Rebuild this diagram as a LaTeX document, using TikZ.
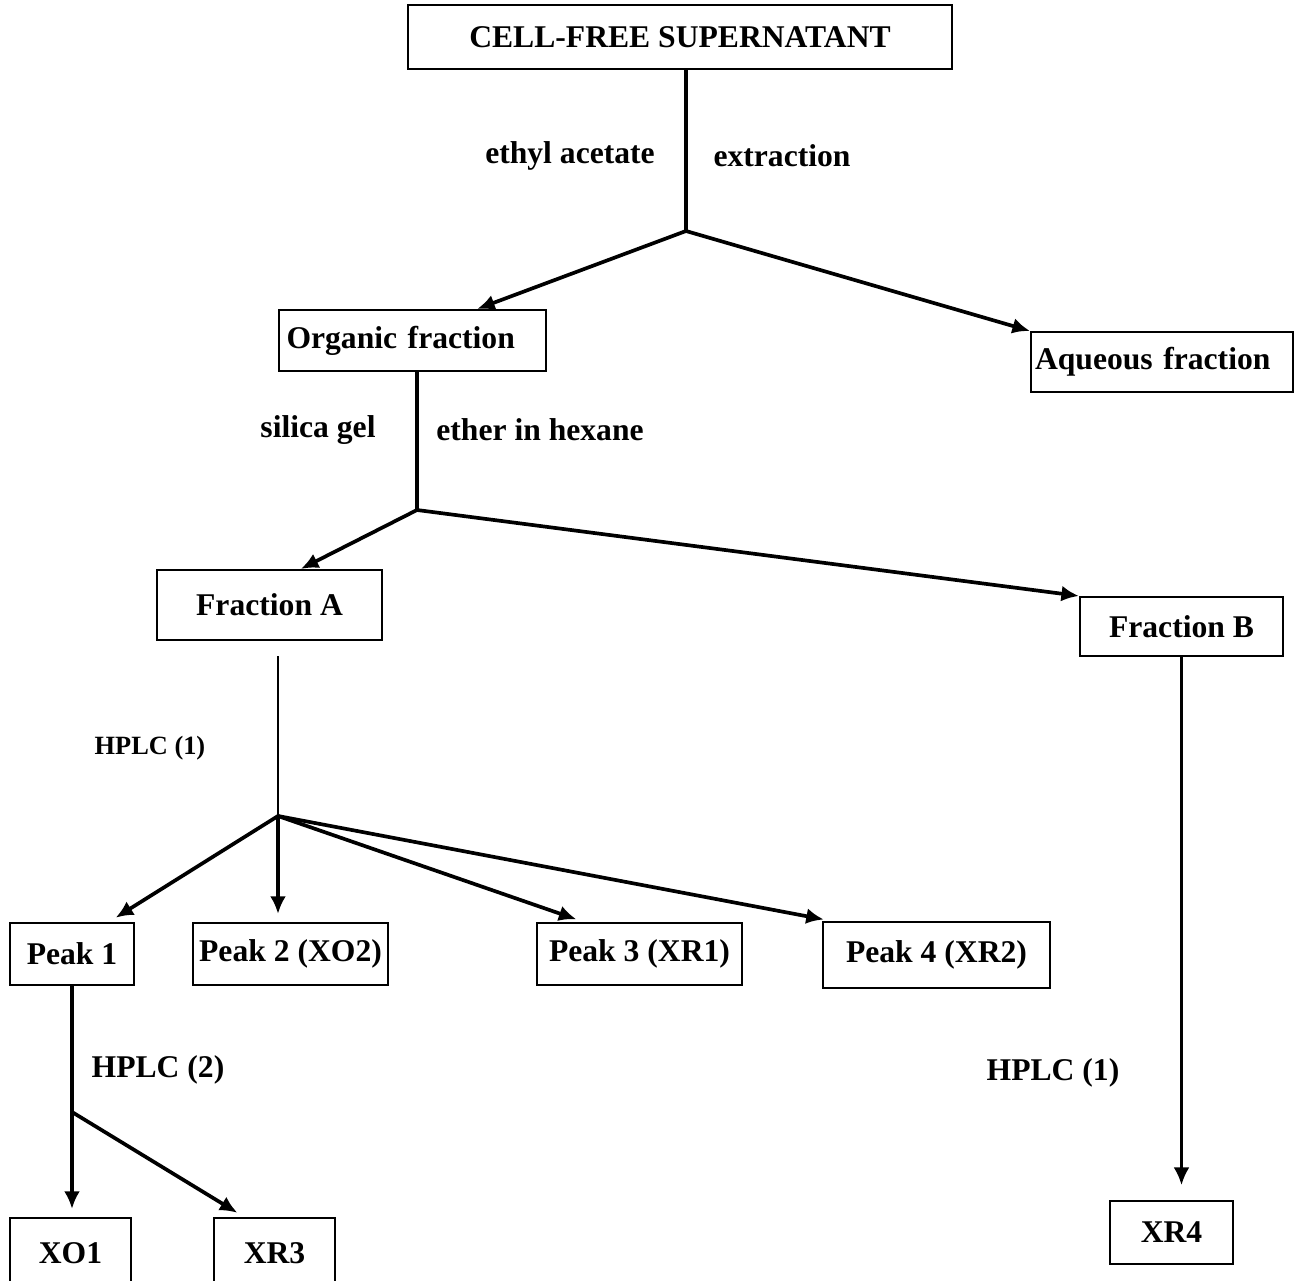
\documentclass[tikz,border=0pt]{standalone}
\usepackage{fontspec}
\setmainfont{Liberation Serif}
\usetikzlibrary{arrows.meta}

\tikzset{
  box/.style={draw, line width=1.2pt, inner sep=0pt, font=\bfseries\fontsize{18}{21}\selectfont},
  lbl/.style={font=\bfseries\fontsize{18}{21}\selectfont},
  small/.style={font=\bfseries\fontsize{15}{18}\selectfont},
  arr/.style={line width=2.1pt, -{Latex[length=10pt,width=9pt]}},
  gap/.style={shorten >=0.16cm},
  stem/.style={line width=1.8pt}
}

\begin{document}
\begin{tikzpicture}[x=0.02cm, y=-0.02cm]
  \useasboundingbox (0,0) rectangle (1295,1281);

  % boxes
  \node[box, minimum width=10.88cm, minimum height=1.28cm] (sup) at (680,37) {CELL-FREE SUPERNATANT};
  \node[box, inner xsep=0.15cm, text width=5.04cm, align=left, minimum height=1.22cm] (org) at (412.5,340.5) {Organic fraction};
  \node[box, inner xsep=0.08cm, text width=5.08cm, align=left, minimum height=1.2cm] (aq) at (1162,362) {Aqueous fraction};
  \node[box, minimum width=4.5cm, minimum height=1.4cm] (fa) at (269.5,605) {Fraction A};
  \node[box, minimum width=4.06cm, minimum height=1.18cm] (fb) at (1181.5,626.5) {Fraction B};
  \node[box, minimum width=2.48cm, minimum height=1.24cm] (p1) at (72,954) {Peak 1};
  \node[box, minimum width=3.9cm, minimum height=1.24cm] (p2) at (290.5,954) {Peak 2 (XO2)};
  \node[box, minimum width=4.1cm, minimum height=1.24cm] (p3) at (639.5,954) {Peak 3 (XR1)};
  \node[box, minimum width=4.54cm, minimum height=1.32cm] (p4) at (936.5,955) {Peak 4 (XR2)};
  \node[box, minimum width=2.42cm, minimum height=1.4cm] (xo1) at (70.5,1253) {XO1};
  \node[box, minimum width=2.42cm, minimum height=1.4cm] (xr3) at (274.5,1253) {XR3};
  \node[box, minimum width=2.46cm, minimum height=1.26cm] (xr4) at (1171.5,1232.5) {XR4};

  % branch points
  \coordinate (j1) at (686,231);
  \coordinate (j2) at (417,510);
  \coordinate (j3) at (278,816);
  \coordinate (j4) at (72,1112);

  % labels
  \node[lbl] (ea) at (570,156) {ethyl acetate};
  \node[lbl] (ex) at (782,156) {extraction};
  \node[lbl] (sg) at (318,430) {silica gel};
  \node[lbl] (eh) at (540,430) {ether in hexane};
  \node[small] (h1) at (150,748) {HPLC (1)};
  \node[lbl] (h2) at (158,1070) {HPLC (2)};
  \node[lbl] (h3) at (1053,1073) {HPLC (1)};

  % extraction
  \draw[stem] (sup.south -| j1) -- (j1);
  \draw[arr] (j1) -- (org.26);
  \draw[arr] (j1) -- (aq.north west);

  % column
  \draw[stem] (org.south -| j2) -- (j2);
  \draw[arr] (j2) -- (fa.49);
  \draw[arr] (j2) -- (fb.north west);

  % HPLC of fraction A
  \draw[stem, line width=1.4pt, shorten <=0.3cm] (fa.south -| j3) -- (j3);
  \draw[arr, gap] (j3) -- (p1.41);
  \draw[arr, gap] (j3) -- (p2.north -| j3);
  \foreach \p/\a in {p3/150, p4/162}{
    \draw[arr, gap] (j3) -- (\p.\a);
  }

  % HPLC of peak 1
  \draw[stem] (p1.south) -- (j4);
  \draw[arr, gap] (j4) -- (xo1.north -| j4);
  \draw[arr, gap] (j4) -- (xr3.130);

  % HPLC of fraction B
  \draw[arr, line width=1.4pt, shorten >=0.3cm] (fb.south) -- (fb.south |- xr4.north);

\end{tikzpicture}
\end{document}
